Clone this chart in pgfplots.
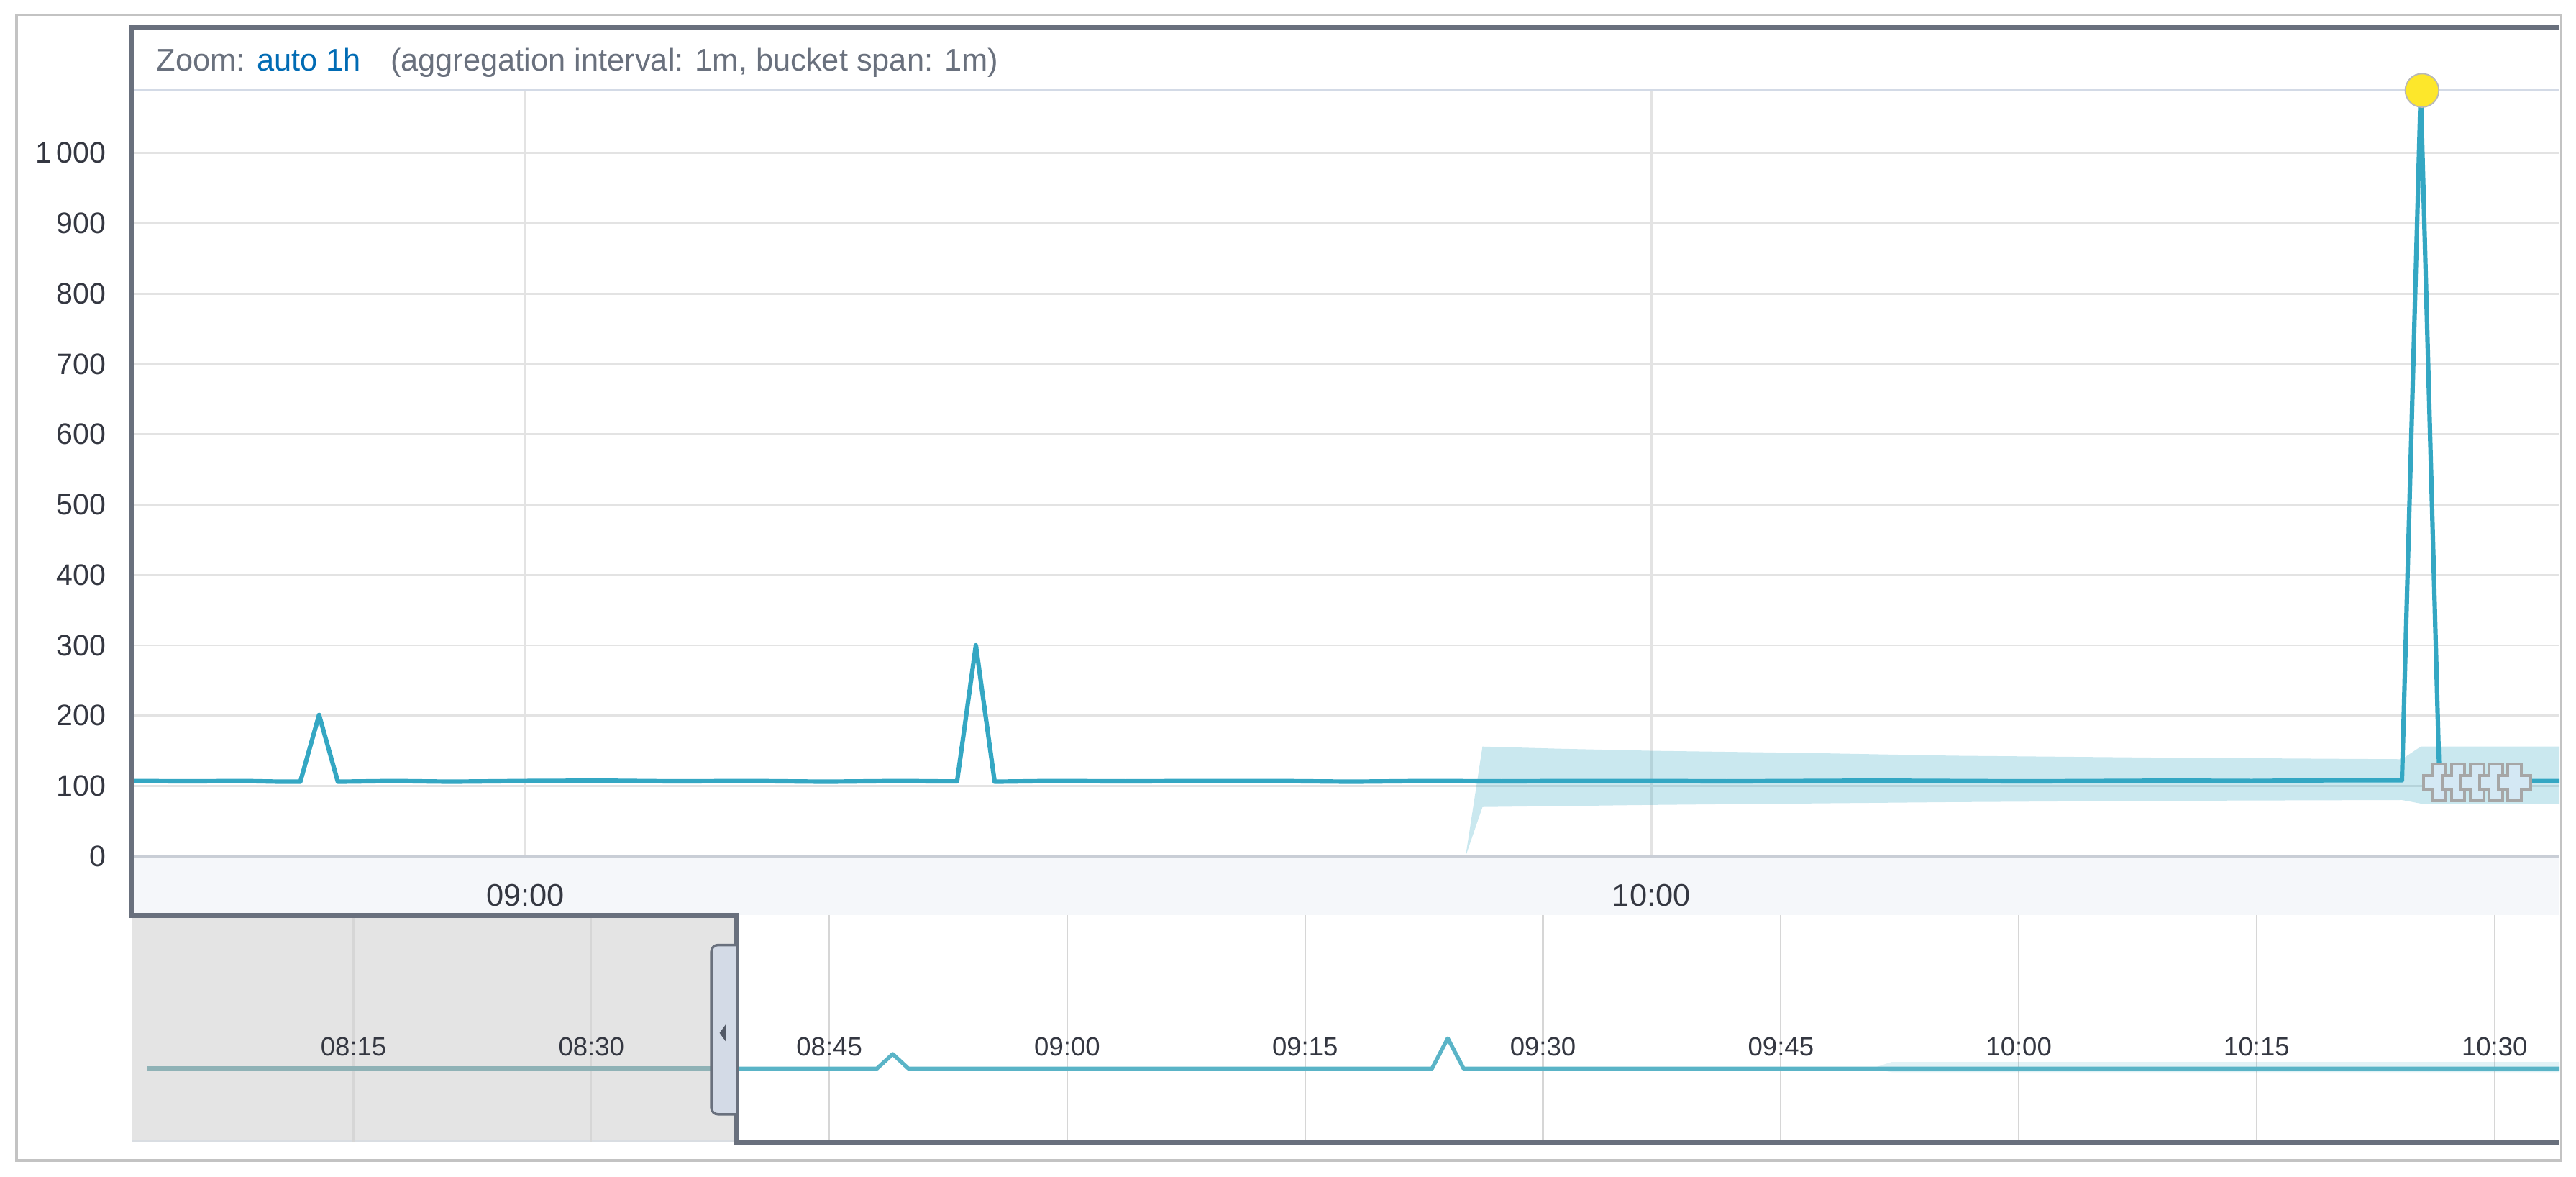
\documentclass[border=0pt]{standalone}
\usepackage{fontspec}
\setmainfont{Liberation Sans}
\usepackage{pgfplots}
\pgfplotsset{compat=1.18}

\definecolor{frame}{HTML}{69707D}
\definecolor{outer}{HTML}{C3C3C3}
\definecolor{hdrline}{HTML}{D3DAE6}
\definecolor{hdrtext}{HTML}{69707D}
\definecolor{zoomblue}{HTML}{006BB4}
\definecolor{labelband}{HTML}{F5F7FA}
\definecolor{axisbottom}{HTML}{C9CED6}
\definecolor{gridc}{HTML}{E3E3E3}
\definecolor{ctxgrid}{HTML}{D6D6D6}
\definecolor{ticktext}{HTML}{343741}
\definecolor{series}{HTML}{34A7C3}
\definecolor{anomaly}{HTML}{FDE72B}
\definecolor{markfill}{HTML}{D4E8F4}
\definecolor{markdraw}{HTML}{A6A6A6}
\definecolor{ctxgray}{HTML}{E4E4E4}
\definecolor{ctxline}{HTML}{5AB4C7}
\definecolor{ctxlinegray}{HTML}{8FB2B6}
\definecolor{handle}{HTML}{D3DAE6}
\definecolor{handlearrow}{HTML}{535966}

% multi-bucket marker: a filled plus
\pgfdeclareplotmark{mbplus}{%
  \pgfpathmoveto{\pgfpoint{-2pt}{5.6pt}}
  \pgfpathlineto{\pgfpoint{2pt}{5.6pt}}
  \pgfpathlineto{\pgfpoint{2pt}{2.1pt}}
  \pgfpathlineto{\pgfpoint{4.9pt}{2.1pt}}
  \pgfpathlineto{\pgfpoint{4.9pt}{-2.1pt}}
  \pgfpathlineto{\pgfpoint{2pt}{-2.1pt}}
  \pgfpathlineto{\pgfpoint{2pt}{-5.6pt}}
  \pgfpathlineto{\pgfpoint{-2pt}{-5.6pt}}
  \pgfpathlineto{\pgfpoint{-2pt}{-2.1pt}}
  \pgfpathlineto{\pgfpoint{-4.9pt}{-2.1pt}}
  \pgfpathlineto{\pgfpoint{-4.9pt}{2.1pt}}
  \pgfpathlineto{\pgfpoint{-2pt}{2.1pt}}
  \pgfpathclose
  \pgfusepathqfillstroke
}

% main chart: minutes after 08:00, one bucket per minute
\pgfplotstableread{
t v
39 107
42 106.5
45 107
47 106
48 106
49 201
50 106
53 107
56 106
60 107
64 107.5
68 106.5
72 107
76 106
80 107
82 106.5
83 106.5
84 300
85 106
88 107
92 106.5
96 107
100 107
104 106
108 107
112 106.5
116 107
120 107
124 106.5
128 107
132 107.5
136 107
140 106.5
144 107
148 107.5
152 107
156 108
159 108
160 108
161 1089
162 106
165 107
168.4 107
}\mainseries

% model bounds, upper edge then lower edge back
\pgfplotstableread{
t v
110.1 0
111 156
115 153
120 150
128 147
136 143
148 140
160 138
161 156
168.4 156
168.4 75
161 75
160 80
148 79
136 77
120 73
111 70
110.1 0
}\mainband

\pgfplotstableread{
t v
2 107
10 107
20 107
30 107
39.13 107
}\ctxleft

\pgfplotstableread{
t v
39.13 107
47 107
48 107
49 200
50 107
60 107
70 107
83 107
84 300
85 107
100 107
120 107
140 107
154.1 107
}\ctxright

\pgfplotstableread{
t v
110.7 107
112 150
154.1 150
154.1 85
112 85
110.7 107
}\ctxband

\begin{document}
\begin{tikzpicture}
\useasboundingbox (0pt,0pt) rectangle (784pt,-358pt);

% outer border
\draw[outer, line width=0.8pt] (5pt,-4.5pt) rectangle (779.5pt,-353pt);

% header
\draw[hdrline, line width=0.75pt] (40pt,-27.5pt) -- (779pt,-27.5pt);
\node[anchor=west, inner sep=0pt, font=\fontsize{9.5}{11}\selectfont] at (47.5pt,-19pt)
  {\textcolor{hdrtext}{Zoom:} \textcolor{zoomblue}{auto 1h}\hspace{0.95em}\textcolor{hdrtext}{(aggregation interval: 1m, bucket span: 1m)}};

% band under the main plot for the time labels
\fill[labelband] (40pt,-260.5pt) rectangle (779pt,-278.5pt);
% grey, unselected part of the context chart
\fill[ctxgray] (40pt,-278.5pt) rectangle (224pt,-347.5pt);
\draw[axisbottom!70, line width=0.6pt] (40pt,-347pt) -- (224pt,-347pt);

\begin{axis}[
  at={(40pt,-260.5pt)}, anchor=south west,
  scale only axis, width=739pt, height=233pt,
  xmin=39, xmax=168.4, ymin=0, ymax=1089,
  axis line style={draw=none},
  major tick length=0pt,
  xtick={60,120}, xticklabels={09:00,10:00},
  ytick={0,100,...,1000},
  yticklabels={0,100,200,300,400,500,600,700,800,900,1\,000},
  xmajorgrids, ymajorgrids,
  grid style={gridc, line width=0.6pt},
  /pgf/number format/assume math mode=true,
  yticklabel style={font=\fontsize{9}{10}\selectfont, text=ticktext, anchor=east, inner sep=0pt, xshift=-7.5pt},
  xticklabel style={font=\fontsize{9.5}{11}\selectfont, text=ticktext, anchor=center, inner sep=0pt, yshift=-12pt},
  clip=false,
]
\addplot[draw=none, fill=series, fill opacity=0.26] table[x=t, y=v] {\mainband} -- cycle;
\addplot[series, line width=1.35pt, line join=round] table[x=t, y=v] {\mainseries};
\addplot[only marks, mark=mbplus, mark options={fill=markfill, draw=markdraw, line width=0.85pt}]
  coordinates {(162,105) (163,105) (164,105) (165,105) (166,105)};
\addplot[only marks, mark=*, mark size=5.1pt, mark options={fill=anomaly, draw=markdraw!80, line width=0.4pt}]
  coordinates {(161.07,1089)};
\end{axis}

% bottom line of the main plot
\draw[axisbottom, line width=0.75pt] (40pt,-260.5pt) -- (779pt,-260.5pt);

\begin{axis}[
  at={(40pt,-347.5pt)}, anchor=south west,
  scale only axis, width=739pt, height=69pt,
  xmin=1, xmax=154.1, ymin=-360, ymax=1080,
  axis line style={draw=none},
  major tick length=0pt,
  xtick={15,30,...,150},
  xticklabels={08:15,08:30,08:45,09:00,09:15,09:30,09:45,10:00,10:15,10:30},
  ytick=\empty,
  xmajorgrids,
  grid style={ctxgrid, line width=0.5pt},
  /pgf/number format/assume math mode=true,
  xticklabel style={font=\fontsize{8}{9}\selectfont, text=ticktext, anchor=center, inner sep=0pt, yshift=29pt},
  clip=false,
]
\addplot[draw=none, fill=series, fill opacity=0.15] table[x=t, y=v] {\ctxband} -- cycle;
\addplot[ctxlinegray, line width=1.4pt] table[x=t, y=v] {\ctxleft};
\addplot[ctxline, line width=1.2pt, line join=round] table[x=t, y=v] {\ctxright};
\end{axis}

% focus frame and brush handle
\draw[frame, line width=1.5pt, line join=miter]
  (779pt,-8.5pt) -- (40pt,-8.5pt) -- (40pt,-278.5pt) -- (224pt,-278.5pt)
  -- (224pt,-347.5pt) -- (779pt,-347.5pt);
\draw[frame, fill=handle, line width=0.75pt, rounded corners=2pt]
  (224pt,-287.5pt) -- (216.5pt,-287.5pt) -- (216.5pt,-339pt) -- (224pt,-339pt);
\fill[handlearrow] (219pt,-314.25pt) -- (221pt,-311.5pt) -- (221pt,-317pt) -- cycle;
\end{tikzpicture}
\end{document}
